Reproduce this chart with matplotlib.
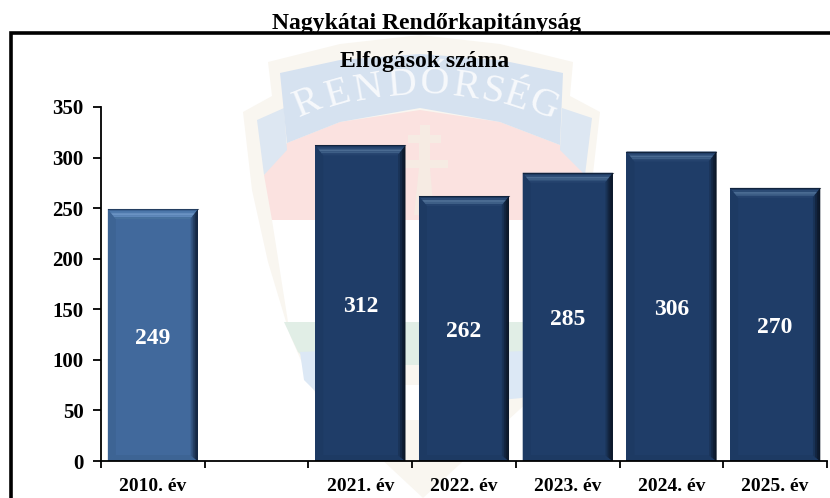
import matplotlib
matplotlib.use("Agg")
import matplotlib.pyplot as plt
from matplotlib.patches import Polygon, Rectangle

categories = ["2010. év", "", "2021. év", "2022. év", "2023. év", "2024. év", "2025. év"]
values = [249, None, 312, 262, 285, 306, 270]
y_ticks = [0, 50, 100, 150, 200, 250, 300, 350]
title = "Nagykátai Rendőrkapitányság"
subtitle = "Elfogások száma"
badge_letters = list("RENDŐRSÉG")

W, H = 830, 498
plt.rcParams['font.family'] = ['Liberation Serif', 'DejaVu Serif']
plt.rcParams['font.weight'] = 'bold'

fig = plt.figure(figsize=(W / 100, H / 100), dpi=100, facecolor="white")

# background layer in pixel coordinates: faded police badge and the frame
bg = fig.add_axes([0, 0, 1, 1])
bg.set_xlim(0, W)
bg.set_ylim(H, 0)
bg.axis("off")


def shape(pts, color):
    bg.add_patch(Polygon(pts, closed=True, facecolor=color, edgecolor="none"))


# outer cream shield
shape([(243, 112), (272, 96), (268, 62), (340, 44), (420, 35), (500, 44), (573, 62),
       (570, 96), (600, 112), (590, 200), (575, 262), (555, 330), (530, 400), (423, 498),
       (318, 400), (290, 335), (268, 262), (252, 190)], "#f9f6f0")
# red stripe
shape([(264, 175), (287, 143), (340, 122), (420, 110), (500, 122), (560, 145), (585, 175),
       (574, 220), (272, 220)], "#fbe2e0")
# white stripe
shape([(272, 220), (574, 220), (558, 322), (288, 322)], "#ffffff")
# green stripe
shape([(284, 322), (558, 322), (548, 352), (535, 365), (312, 365), (298, 352)], "#e1eee6")
# lower blue patches
shape([(300, 352), (345, 350), (345, 400), (322, 398), (304, 380)], "#dce8f5")
shape([(500, 352), (546, 350), (540, 382), (522, 398), (500, 400)], "#dce8f5")
shape([(395, 385), (435, 385), (435, 420), (395, 420)], "#ffffff")
# side wings
shape([(257, 120), (284, 108), (287, 150), (264, 175)], "#dde7f2")
shape([(562, 108), (592, 118), (585, 175), (560, 150)], "#dde7f2")
# banner
shape([(280, 73), (340, 60), (420, 54), (500, 60), (563, 73), (560, 145), (500, 122),
       (420, 108), (340, 122), (287, 143)], "#d6e2f0")
# double cross
shape([(420, 125), (430, 125), (430, 135), (441, 135), (441, 143), (430, 143), (430, 160),
       (448, 160), (448, 168), (430, 168), (434, 215), (414, 215), (419, 168), (400, 168),
       (400, 160), (419, 160), (419, 143), (408, 143), (408, 135), (420, 135)], "#f6ebe3")

letter_x = [308, 338, 369, 402, 434, 466, 492, 517, 543]
letter_y = [103, 94, 89, 85, 84, 87, 92, 98, 106]
letter_rot = [22, 16, 10, 5, -2, -8, -13, -18, -22]
for ch, lx, ly, rot in zip(badge_letters, letter_x, letter_y, letter_rot):
    bg.text(lx, ly, ch, color="#f7f9fc", fontsize=29, fontweight="normal", rotation=rot,
            ha="center", va="center", rotation_mode="anchor")

# frame runs off the right and bottom edges
bg.plot([11, 11, W + 5], [H + 5, 33, 33], color="black", lw=2.6, solid_joinstyle="miter", zorder=5)

# chart layer
ax = fig.add_axes([101 / W, 1 - 461 / H, (827 - 101) / W, (461 - 107) / H])
ax.patch.set_alpha(0)
ax.set_xlim(-0.5, 6.5)
ax.set_ylim(0, 350)

bar_w = 0.868
px_x = 8 / 103.7  # bevel size in category units
px_y = 10 * 350 / 354  # bevel size in value units


def band(x0, x1, v, f0, f1, color):
    ax.add_patch(Polygon([(x0 + px_x * f0, v - px_y * f0), (x0 + px_x * f1, v - px_y * f1),
                          (x1 - px_x * f1, v - px_y * f1), (x1 - px_x * f0, v - px_y * f0)],
                         facecolor=color, edgecolor="none", zorder=4))


def bevel_bar(i, v, base, top_cols, side_col, right_col):
    x0, x1 = i - bar_w / 2, i + bar_w / 2
    ax.bar(i, v, width=bar_w, color=base, edgecolor="none", zorder=2)
    # side and bottom bevels
    ax.add_patch(Polygon([(x0, 0), (x0 + px_x, px_y * 0.6), (x0 + px_x, v - px_y), (x0, v)],
                         facecolor=side_col, edgecolor="none", zorder=3))
    ax.add_patch(Polygon([(x0, 0), (x0 + px_x, px_y * 0.6), (x1 - px_x, px_y * 0.6), (x1, 0)],
                         facecolor=side_col, edgecolor="none", zorder=3))
    # right edge darkens to the outside
    for k, frac in enumerate([0.9, 0.65, 0.4, 0.18]):
        ax.add_patch(Polygon([(x1, 0), (x1 - px_x * frac, px_y * 0.6 * frac),
                              (x1 - px_x * frac, v - px_y * frac), (x1, v)],
                             facecolor=right_col, alpha=0.25 + 0.17 * k, edgecolor="none", zorder=3))
    # top bevel, dark at the rim and light at the inner edge
    n = len(top_cols)
    for k, col in enumerate(top_cols):
        band(x0, x1, v, k / n, (k + 1) / n, col)
    ax.plot([x0, x1], [v, v], color=right_col, lw=0.8, zorder=5, alpha=0.6)
    ax.text(i, v / 2 - 3, str(v), color="white", fontsize=17, ha="center", va="center", zorder=6)


for i, v in enumerate(values):
    if v is None:
        continue
    if i == 0:
        bevel_bar(i, v, "#41699c", ["#3f6798", "#4f7aad", "#6a93c3", "#5f88ba", "#48729f"], "#3d6494", "#12233d")
    else:
        bevel_bar(i, v, "#1f3d68", ["#1d3960", "#2b4a74", "#4a6b92", "#3d5e86", "#25436e"], "#1d3a63", "#0b1626")

for side in ["top", "right"]:
    ax.spines[side].set_visible(False)
for side in ["left", "bottom"]:
    ax.spines[side].set_linewidth(1.3)
    ax.spines[side].set_zorder(7)

ax.set_yticks(y_ticks)
ax.tick_params(axis="y", length=5.5, width=1.3, labelsize=15, pad=7)
ax.set_xticks(range(len(categories)))
ax.set_xticklabels(categories, fontsize=14)
ax.set_xticks([i - 0.5 for i in range(len(categories) + 1)], minor=True)
ax.tick_params(axis="x", which="major", length=0, pad=12)
ax.tick_params(axis="x", which="minor", length=5, width=1.3)

fig.text(427 / W, 1 - 23 / H, title, fontsize=17, ha="center", va="center", zorder=1)
fig.text(425 / W, 1 - 62 / H, subtitle, fontsize=17, ha="center", va="center")

fig.savefig("out.png", dpi=100)
